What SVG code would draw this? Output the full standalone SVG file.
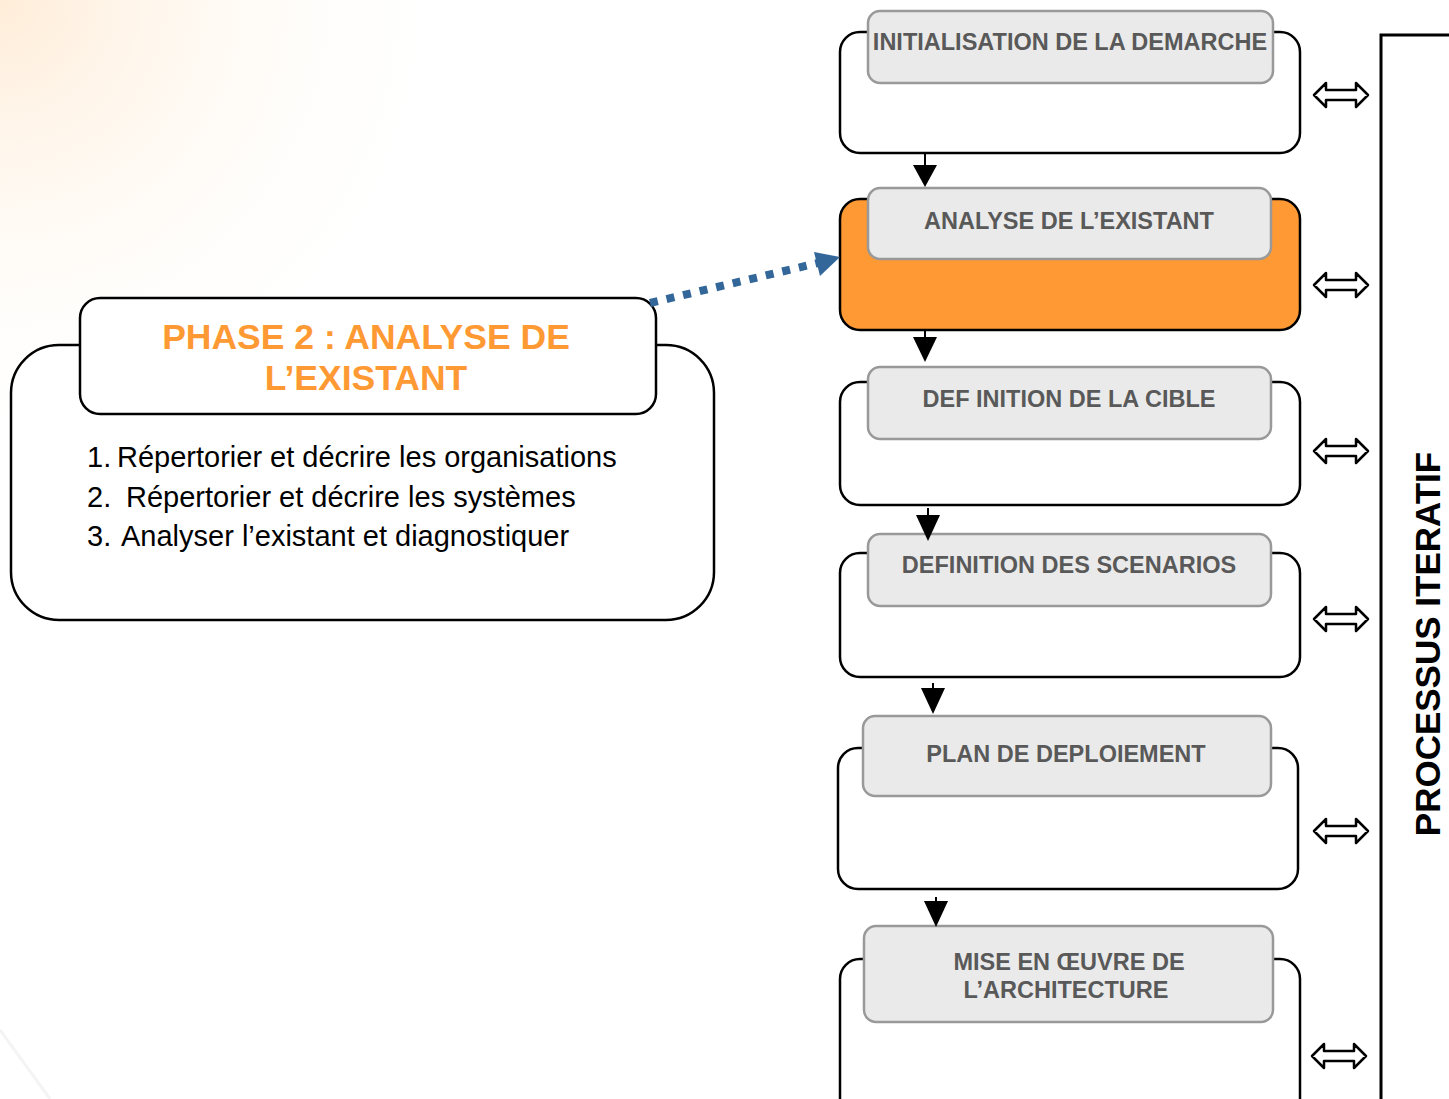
<svg xmlns="http://www.w3.org/2000/svg" width="1449" height="1099" viewBox="0 0 1449 1099">
<defs>
<radialGradient id="bg" cx="0" cy="0" r="470" gradientUnits="userSpaceOnUse">
<stop offset="0" stop-color="#FFDDB8" stop-opacity="0.55"/>
<stop offset="0.5" stop-color="#FFF0DD" stop-opacity="0.3"/>
<stop offset="1" stop-color="#FFFFFF" stop-opacity="0"/>
</radialGradient>
<path id="dbl" d="M0,0 L12,-12 L12,-5 L42,-5 L42,-12 L54,0 L42,12 L42,5 L12,5 L12,12 Z" fill="#fff" stroke="#000" stroke-width="2.5" stroke-linejoin="round"/>
</defs>
<style>
.outer{fill:#fff;stroke:#000;stroke-width:2.5}
.inner{fill:#EAEAEA;stroke:#999;stroke-width:2.5}
.lbl{font-family:"Liberation Sans",Arial,sans-serif;font-weight:bold;font-size:23.5px;fill:#595959;text-anchor:middle}
.flow{stroke:#000;stroke-width:2;fill:none}
.list{font-family:"Liberation Sans",Arial,sans-serif;font-size:29px;fill:#000}
.title{font-family:"Liberation Sans",Arial,sans-serif;font-weight:bold;font-size:35.5px;fill:#FF9933;text-anchor:middle}
</style>
<rect x="0" y="0" width="1449" height="1099" fill="#fff"/>
<rect x="0" y="0" width="600" height="500" fill="url(#bg)"/>
<line x1="0" y1="1030" x2="50" y2="1099" stroke="#eeeeee" stroke-width="3" opacity="0.6"/>

<g id="node-initialisation">
<rect class="outer" x="840" y="32" width="460" height="121" rx="20"/>
<rect class="inner" x="868" y="11" width="405" height="72" rx="12"/>
<text class="lbl" x="1070" y="50">INITIALISATION DE LA DEMARCHE</text>
</g>
<g id="node-analyse">
<rect class="outer" x="840" y="199" width="460" height="131" rx="20" style="fill:#FF9933"/>
<rect class="inner" x="868" y="188" width="403" height="71" rx="12"/>
<text class="lbl" x="1069" y="229">ANALYSE DE L’EXISTANT</text>
</g>
<g id="node-cible">
<rect class="outer" x="840" y="382" width="460" height="123" rx="20"/>
<rect class="inner" x="868" y="367" width="403" height="72" rx="12"/>
<text class="lbl" x="1069" y="407">DEF INITION DE LA CIBLE</text>
</g>
<g id="node-scenarios">
<rect class="outer" x="840" y="553" width="460" height="124" rx="20"/>
<rect class="inner" x="868" y="534" width="403" height="72" rx="12"/>
<text class="lbl" x="1069" y="573">DEFINITION DES SCENARIOS</text>
</g>
<g id="node-deploiement">
<rect class="outer" x="838" y="748" width="460" height="141" rx="20"/>
<rect class="inner" x="863" y="716" width="408" height="80" rx="12"/>
<text class="lbl" x="1066" y="762">PLAN DE DEPLOIEMENT</text>
</g>
<g id="node-architecture">
<rect class="outer" x="840" y="959" width="460" height="160" rx="20"/>
<rect class="inner" x="864" y="926" width="409" height="96" rx="12"/>
<text class="lbl" x="1069" y="970">MISE EN ŒUVRE DE</text>
<text class="lbl" x="1066" y="998">L’ARCHITECTURE</text>
</g>

<g id="node-phase2">
<rect x="11" y="345" width="703" height="275" rx="48" fill="#fff" stroke="#000" stroke-width="2.5"/>
<rect x="80" y="298" width="576" height="116" rx="20" fill="#fff" stroke="#000" stroke-width="2.5"/>
<text class="title" x="366" y="349">PHASE 2 : ANALYSE DE</text>
<text class="title" x="366" y="390">L’EXISTANT</text>
<text class="list" x="87" y="467">1.<tspan x="117">Répertorier et décrire les organisations</tspan></text>
<text class="list" x="87" y="507">2.<tspan x="126">Répertorier et décrire les systèmes</tspan></text>
<text class="list" x="87" y="546">3.<tspan x="121">Analyser l’existant et diagnostiquer</tspan></text>
</g>

<g id="node-processus">
<path d="M1449,35 L1381,35 L1381,1099" fill="none" stroke="#000" stroke-width="3"/>
<text x="0" y="0" transform="translate(1440,644) rotate(-90)" font-family="Liberation Sans, Arial, sans-serif" font-weight="bold" font-size="35" fill="#000" text-anchor="middle">PROCESSUS ITERATIF</text>
</g>

<g id="connectors">
<line class="flow" x1="925" y1="154" x2="925" y2="170"/>
<path d="M913,165 L937,165 L925,187 Z" fill="#000"/>
<line class="flow" x1="925" y1="331" x2="925" y2="350"/>
<path d="M913,337 L937,337 L925,362 Z" fill="#000"/>
<line class="flow" x1="928" y1="508" x2="928" y2="525"/>
<path d="M916,515 L940,515 L928,541 Z" fill="#000"/>
<line class="flow" x1="933" y1="683" x2="933" y2="700"/>
<path d="M921,688 L945,688 L933,714 Z" fill="#000"/>
<line class="flow" x1="936" y1="897" x2="936" y2="912"/>
<path d="M924,901 L948,901 L936,927 Z" fill="#000"/>
<path d="M650,303 L818,263" stroke="#336699" stroke-width="8" stroke-dasharray="8,9" fill="none"/>
<path d="M840,257 L814,252 L820,276 Z" fill="#336699"/>
<use href="#dbl" x="1314" y="95"/>
<use href="#dbl" x="1314" y="285"/>
<use href="#dbl" x="1314" y="451"/>
<use href="#dbl" x="1314" y="619"/>
<use href="#dbl" x="1314" y="831"/>
<use href="#dbl" x="1312" y="1056"/>
</g>
</svg>
